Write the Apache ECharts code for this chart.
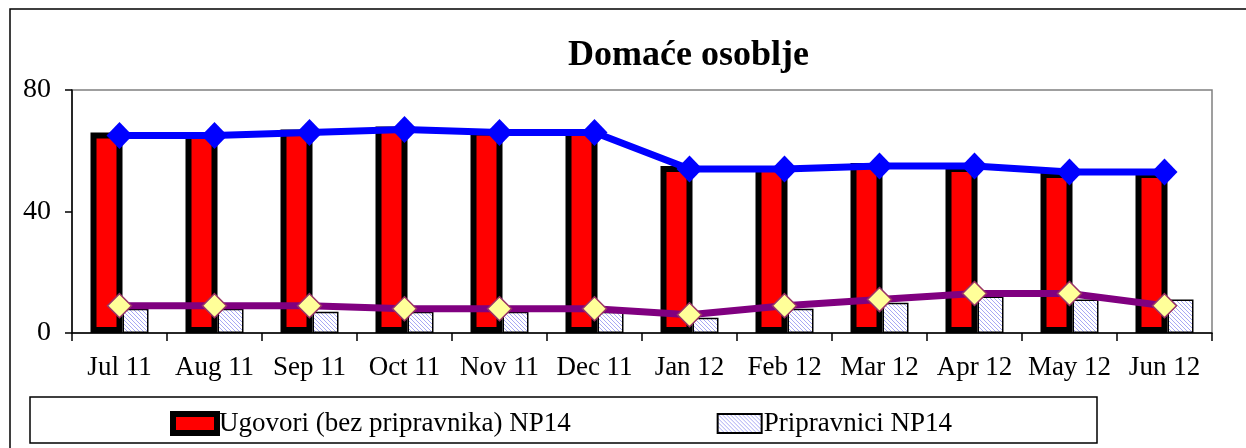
<!DOCTYPE html>
<html>
<head>
<meta charset="utf-8">
<script src="https://cdn.jsdelivr.net/npm/echarts@6/dist/echarts.min.js"></script>
<style>
  html, body { margin: 0; padding: 0; background: #fff; }
  #chart { width: 1246px; height: 448px; }
</style>
</head>
<body>
<div id="chart"></div>
<script>
// values
const months = ['Jul 11', 'Aug 11', 'Sep 11', 'Oct 11', 'Nov 11', 'Dec 11',
                'Jan 12', 'Feb 12', 'Mar 12', 'Apr 12', 'May 12', 'Jun 12'];
const ugovori = [66, 66, 67, 68, 67, 67, 55, 55, 56, 55, 53, 53];
const pripravnici = [8, 8, 7, 7, 7, 7, 5, 8, 10, 12, 11, 11];
const ugovoriLine = [65, 65, 66, 67, 66, 66, 54, 54, 55, 55, 53, 53];
const pripravniciLine = [9, 9, 9, 8, 8, 8, 6, 9, 11, 13, 13, 9];
const yTicks = [0, 40, 80];

const serif = '"Liberation Serif", "DejaVu Serif", serif';

// diagonal hatch used by the Pripravnici bars and its legend icon
function hatch() {
  const c = document.createElement('canvas');
  c.width = 4; c.height = 4;
  const g = c.getContext('2d');
  g.fillStyle = '#ffffff';
  g.fillRect(0, 0, 4, 4);
  g.strokeStyle = '#a8a8f4';
  g.lineWidth = 1;
  g.beginPath();
  g.moveTo(-1, -1); g.lineTo(5, 5);
  g.moveTo(-1, 3); g.lineTo(1, 5);
  g.moveTo(3, -1); g.lineTo(5, 1);
  g.stroke();
  return { image: c, repeat: 'repeat' };
}
const hatchFill = hatch();

const chart = echarts.init(document.getElementById('chart'), null, { renderer: 'canvas' });

chart.setOption({
  animation: false,
  backgroundColor: '#fff',
  textStyle: { fontFamily: serif },
  title: {
    text: 'Domaće osoblje',
    left: 563, top: 33,
    textStyle: { fontFamily: serif, fontSize: 36, fontWeight: 'bold', color: '#000' }
  },
  grid: {
    left: 72, top: 90, right: 34, bottom: 115,
    show: true, borderColor: '#808080', borderWidth: 1.5, backgroundColor: 'transparent'
  },
  legend: {
    left: 165, top: 405,
    itemWidth: 44, itemHeight: 19, itemGap: 146,
    textStyle: { fontFamily: serif, fontSize: 27, color: '#000', padding: [0, 0, 0, -3] },
    data: [
      { name: 'Ugovori (bez pripravnika) NP14', icon: 'rect',
        itemStyle: { color: '#ff0000', borderColor: '#000', borderWidth: 6 } },
      { name: 'Pripravnici NP14', icon: 'rect',
        itemStyle: { color: hatchFill, borderColor: '#000', borderWidth: 2 } }
    ]
  },
  graphic: [
    { type: 'rect', shape: { x: 10, y: 9, width: 1250, height: 450 },
      style: { fill: 'none', stroke: '#000', lineWidth: 1.5 }, silent: true, z: -1 },
    { type: 'rect', shape: { x: 30, y: 397, width: 1067, height: 46 },
      style: { fill: 'none', stroke: '#000', lineWidth: 1.5 }, silent: true, z: -1 }
  ],
  xAxis: {
    type: 'category',
    data: months,
    boundaryGap: true,
    axisLine: { lineStyle: { color: '#000', width: 1.5 } },
    axisTick: { show: true, interval: 0, length: 8, lineStyle: { color: '#000', width: 1.5 } },
    axisLabel: { color: '#000', fontSize: 27, margin: 21, interval: 0, fontFamily: serif }
  },
  yAxis: {
    type: 'value',
    min: 0, max: 80, interval: 40,
    splitLine: { show: false },
    axisLine: { show: true, lineStyle: { color: '#000', width: 1.5 } },
    axisTick: { show: true, length: 7, lineStyle: { color: '#000', width: 1.5 } },
    axisLabel: {
      color: '#000', fontSize: 28, margin: 21, fontFamily: serif,
      formatter: v => yTicks.includes(v) ? String(v) : ''
    }
  },
  series: [
    {
      name: 'Ugovori (bez pripravnika) NP14',
      type: 'bar', data: ugovori, barWidth: 32, barGap: '0%', z: 3,
      itemStyle: { color: '#ff0000', borderColor: '#000', borderWidth: 6 }
    },
    {
      name: 'Pripravnici NP14',
      type: 'bar', data: pripravnici, barWidth: 26, barGap: '0%', z: 2,
      itemStyle: { color: hatchFill, borderColor: '#000', borderWidth: 1.5 }
    },
    {
      name: 'ugovori-line', type: 'line', data: ugovoriLine, z: 5,
      symbol: 'diamond', symbolSize: [26, 27],
      lineStyle: { color: '#0000ff', width: 7 },
      itemStyle: { color: '#0000ff', borderWidth: 0 }
    },
    {
      name: 'pripravnici-line', type: 'line', data: pripravniciLine, z: 5,
      symbol: 'diamond', symbolSize: 24,
      lineStyle: { color: '#800080', width: 7 },
      itemStyle: { color: '#ffff99', borderColor: '#993366', borderWidth: 1.5 }
    }
  ]
});
</script>
</body>
</html>
